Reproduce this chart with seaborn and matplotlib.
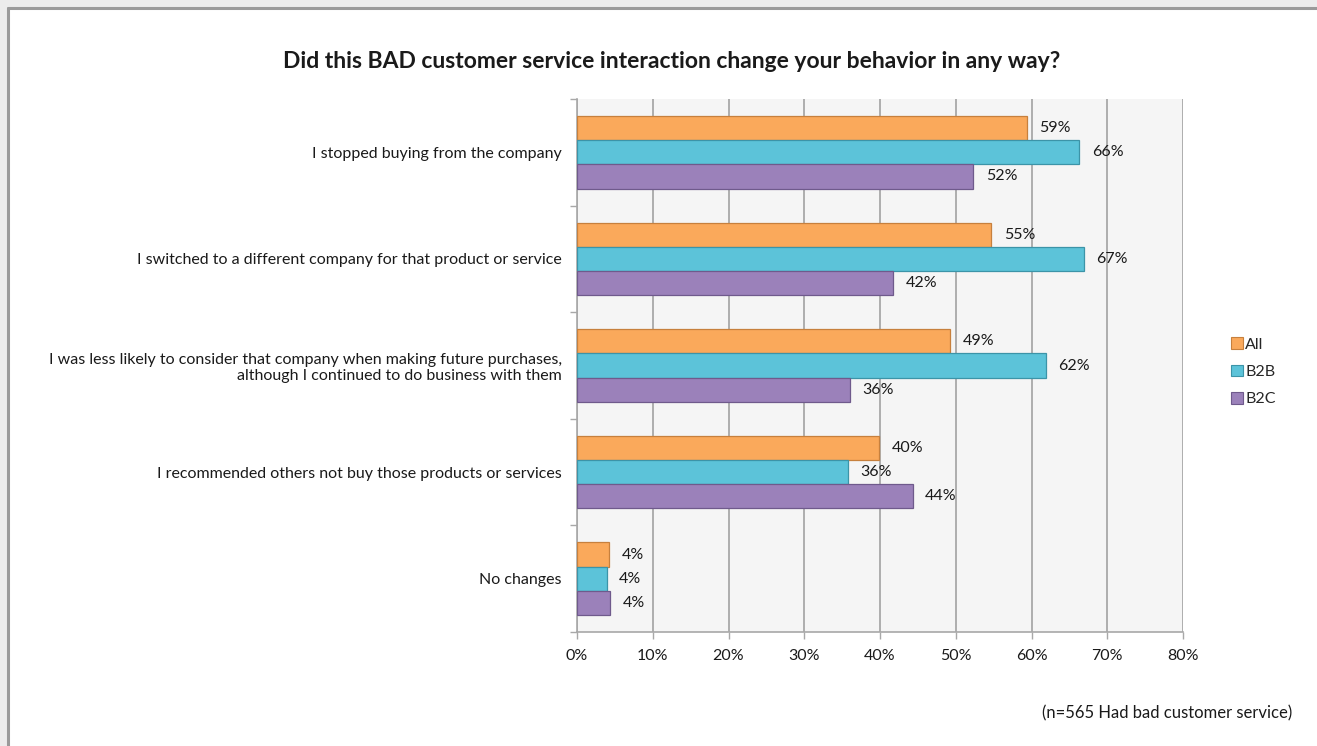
import matplotlib
matplotlib.use("Agg")
import matplotlib.pyplot as plt
from matplotlib.lines import Line2D
from matplotlib.patches import Rectangle
from matplotlib.ticker import FixedLocator, FuncFormatter
import pandas as pd
import seaborn as sns

# Survey responses (percent of respondents who had bad customer service)
responses = [
    "I stopped buying from the company",
    "I switched to a different company for that product or service",
    "I was less likely to consider that company when making future purchases,\nalthough I continued to do business with them",
    "I recommended others not buy those products or services",
    "No changes",
]
groups = ["All", "B2B", "B2C"]
all_pct = [59.4, 54.7, 49.3, 39.9, 4.2]
b2b_pct = [66.3, 66.9, 61.9, 35.8, 3.9]
b2c_pct = [52.3, 41.7, 36.0, 44.3, 4.4]
x_ticks = [0, 10, 20, 30, 40, 50, 60, 70, 80]

title = "Did this BAD customer service interaction change your behavior in any way?"
footnote = "(n=565 Had bad customer service)"

colors = {"All": "#FAA95B", "B2B": "#5CC3D9", "B2C": "#9B81BA"}
edges = {"All": "#C7803D", "B2B": "#3C94A8", "B2C": "#6F5A8C"}

df = pd.DataFrame({
    "response": responses * 3,
    "group": [g for g in groups for _ in responses],
    "pct": all_pct + b2b_pct + b2c_pct,
})

sns.set_theme(style="white")
plt.rcParams["font.family"] = ["Lato", "DejaVu Sans"]

FS = 11.5

fig = plt.figure(figsize=(13.17, 7.46), dpi=100)
fig.patch.set_facecolor("white")

# Outer frame: light grey margin with a grey edge on the left and top
W, H = 1317, 746
fig.patches.append(Rectangle((0, 0), 1, 1, transform=fig.transFigure,
                             facecolor="#ececec", edgecolor="none", zorder=-10))
fig.patches.append(Rectangle((8 / W, 0), 1, 1 - 8 / H, transform=fig.transFigure,
                             facecolor="white", edgecolor="none", zorder=-9))
fig.lines.append(Line2D([7.5 / W, 7.5 / W], [0, 1 - 7.5 / H], transform=fig.transFigure,
                        color="#9a9a9a", lw=2.2, zorder=-8))
fig.lines.append(Line2D([7.5 / W, 1], [1 - 7.5 / H, 1 - 7.5 / H], transform=fig.transFigure,
                        color="#9a9a9a", lw=2.2, zorder=-8))

ax = fig.add_axes([577 / W, 1 - 632 / H, (1183 - 577) / W, (632 - 99) / H])
ax.set_facecolor("#f5f5f5")

sns.barplot(data=df, y="response", x="pct", hue="group", orient="h",
            palette=colors, hue_order=groups, order=responses,
            width=0.68, saturation=1, ax=ax, legend=True, zorder=3)

for cont, g in zip(ax.containers, groups):
    for bar in cont:
        bar.set_edgecolor(edges[g])
        bar.set_linewidth(0.9)
    ax.bar_label(cont, labels=[f"{v:.0f}%" for v in cont.datavalues],
                 padding=9, fontsize=FS, color="#1a1a1a")

ax.set_xlim(0, 80)
ax.set_ylim(len(responses) - 0.5, -0.5)
ax.xaxis.set_major_locator(FixedLocator(x_ticks))
ax.xaxis.set_major_formatter(FuncFormatter(lambda v, p: f"{v:.0f}%"))
ax.grid(axis="x", color="#a8a8a8", lw=1.3, zorder=0)
ax.set_axisbelow(True)

ax.set_xlabel("")
ax.set_ylabel("")
ax.tick_params(axis="x", which="major", length=5, width=1.0, color="#a8a8a8",
               labelsize=FS, labelcolor="#1a1a1a", pad=7, bottom=True)
ax.tick_params(axis="y", which="major", length=0, labelsize=FS,
               labelcolor="#1a1a1a", pad=11)
for lab in ax.get_yticklabels():
    lab.set_horizontalalignment("right")
    lab.set_multialignment("right")
ax.yaxis.set_minor_locator(FixedLocator([i - 0.5 for i in range(len(responses) + 1)]))
ax.tick_params(axis="y", which="minor", length=5, width=1.0, color="#a8a8a8", left=True)

for side in ["top", "right"]:
    ax.spines[side].set_visible(False)
for side in ["left", "bottom"]:
    ax.spines[side].set_color("#a8a8a8")
    ax.spines[side].set_linewidth(1.2)

leg = ax.legend(loc="center left", bbox_to_anchor=(1.066, 0.488), frameon=False,
                fontsize=FS, handlelength=0.75, handleheight=0.75,
                handletextpad=0.15, labelspacing=0.8, borderpad=0)
for h, g in zip(leg.legend_handles, groups):
    h.set_edgecolor(edges[g])
    h.set_linewidth(0.8)

fig.text(0.510, 1 - 62 / H, title, ha="center", va="center",
         fontsize=16.5, fontweight="bold", color="#1a1a1a")
fig.text(1292 / W, 1 - 713 / H, footnote, ha="right", va="center",
         fontsize=12, color="#1a1a1a")

fig.savefig("out.png", dpi=100)
